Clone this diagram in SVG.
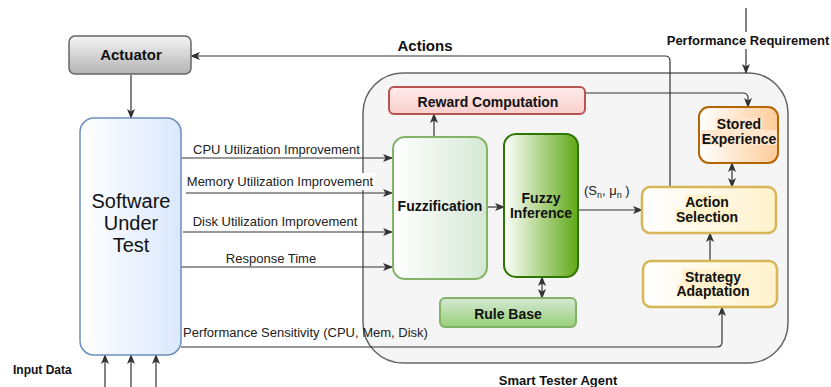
<svg xmlns="http://www.w3.org/2000/svg" width="831" height="387" viewBox="0 0 831 387">
  <defs>
    <linearGradient id="gActuator" x1="0" y1="0" x2="0" y2="1">
      <stop offset="0" stop-color="#f5f5f5"/>
      <stop offset="1" stop-color="#b3b3b3"/>
    </linearGradient>
    <linearGradient id="gSut" x1="0" y1="0" x2="1" y2="0">
      <stop offset="0" stop-color="#ffffff"/>
      <stop offset="1" stop-color="#dae8fc"/>
    </linearGradient>
    <linearGradient id="gReward" x1="0" y1="0" x2="0" y2="1">
      <stop offset="0" stop-color="#fdeceb"/>
      <stop offset="1" stop-color="#f8cecc"/>
    </linearGradient>
    <linearGradient id="gFuzz" x1="0" y1="0" x2="1" y2="0">
      <stop offset="0" stop-color="#ffffff"/>
      <stop offset="1" stop-color="#d5e8d4"/>
    </linearGradient>
    <linearGradient id="gInfer" x1="0" y1="0" x2="1" y2="0">
      <stop offset="0" stop-color="#ffffff"/>
      <stop offset="1" stop-color="#60a917"/>
    </linearGradient>
    <linearGradient id="gRule" x1="0" y1="0" x2="0" y2="1">
      <stop offset="0" stop-color="#d5e8d4"/>
      <stop offset="1" stop-color="#97d077"/>
    </linearGradient>
    <linearGradient id="gStored" x1="0" y1="0" x2="1" y2="0">
      <stop offset="0" stop-color="#ffffff"/>
      <stop offset="1" stop-color="#ffcc99"/>
    </linearGradient>
    <linearGradient id="gYellow" x1="0" y1="0" x2="1" y2="0">
      <stop offset="0" stop-color="#ffffff"/>
      <stop offset="1" stop-color="#fff2cc"/>
    </linearGradient>
    <marker id="arr" viewBox="0 0 10 8" refX="9" refY="4" markerWidth="10" markerHeight="8" markerUnits="userSpaceOnUse" orient="auto-start-reverse">
      <path d="M0,0 L10,4 L0,8 L2.5,4 z" fill="#333333"/>
    </marker>
    <style>
      text { font-family: "Liberation Sans", Arial, Helvetica, sans-serif; fill: #111111; }
      .lbl { font-size: 14px; font-weight: bold; text-anchor: middle; }
      .edge { font-size: 13px; text-anchor: middle; fill: #222222; }
      .title { font-size: 13px; font-weight: bold; text-anchor: middle; }
      .conn { fill: none; stroke: #333333; stroke-width: 1.2; }
      .conn-a { marker-end: url(#arr); }
      .conn-b { marker-start: url(#arr); marker-end: url(#arr); }
      .ybg { fill: #fff2cc; }
      .obg { fill: #ffe6cc; }
    </style>
  </defs>

  <rect width="831" height="387" fill="#ffffff"/>

  <!-- agent container -->
  <g id="smart-tester-agent">
    <rect x="363" y="73" width="425" height="290" rx="40" fill="#f5f5f5" stroke="#666666" stroke-width="1.5"/>
    <text class="title" x="558" y="385">Smart Tester Agent</text>
  </g>

  <!-- connectors -->
  <g id="connectors">
    <path class="conn conn-a" d="M131,75 V118"/>
    <path class="conn conn-a" d="M670,187 V61 Q670,56 665,56 H191"/>
    <path class="conn conn-a" d="M746,8 V73"/>
    <path class="conn conn-a" d="M585,93 H743 Q748,93 748,98 V107"/>
    <path class="conn conn-a" d="M434,137 V114"/>
    <path class="conn conn-a" d="M487,207 H504"/>
    <path class="conn conn-a" d="M578,210 H642"/>
    <path class="conn conn-b" d="M542,277 V298"/>
    <path class="conn conn-b" d="M732,163 V187"/>
    <path class="conn conn-a" d="M710,261 V233"/>
    <path class="conn conn-a" d="M181,347 H717 Q722,347 722,342 V307"/>
    <path class="conn conn-a" d="M181,158 H392"/>
    <path class="conn conn-a" d="M186,193 H392"/>
    <path class="conn conn-a" d="M183,232 H392"/>
    <path class="conn conn-a" d="M181,267 H392"/>
    <path class="conn conn-a" d="M105,387 V355"/>
    <path class="conn conn-a" d="M131,387 V355"/>
    <path class="conn conn-a" d="M156,387 V355"/>

    <text x="425" y="51" style="font-size:15px;font-weight:bold;text-anchor:middle">Actions</text>
    <rect x="666" y="32" width="165" height="17" fill="#ffffff"/>
    <text class="title" x="748" y="45">Performance Requirement</text>
    <text class="edge" x="276.5" y="153.5">CPU Utilization Improvement</text>
    <rect x="185" y="173" width="190" height="17" fill="#ffffff"/>
    <text class="edge" x="280" y="185.5">Memory Utilization Improvement</text>
    <text class="edge" x="275" y="225.5">Disk Utilization Improvement</text>
    <text class="edge" x="271" y="262.5">Response Time</text>
    <text x="183" y="336.5" style="font-size:13px;fill:#222222">Performance Sensitivity (CPU, Mem, Disk)</text>
    <text x="584" y="195" style="font-size:13px;fill:#222222">(S<tspan dy="3" style="font-size:9px">n</tspan><tspan dy="-3">, μ</tspan><tspan dy="3" style="font-size:9px">n</tspan><tspan dy="-3"> )</tspan></text>
    <text x="13" y="374" style="font-size:12px;font-weight:bold">Input Data</text>
  </g>

  <g id="actuator">
    <rect x="69" y="36" width="122" height="38" rx="6" fill="url(#gActuator)" stroke="#666666" stroke-width="1.5"/>
    <text class="lbl" x="131" y="60" style="font-size:15px">Actuator</text>
  </g>

  <g id="software-under-test">
    <rect x="80" y="118" width="101" height="237" rx="14" fill="url(#gSut)" stroke="#6c8ebf" stroke-width="1.5"/>
    <text x="131" y="208" style="font-size:20px;text-anchor:middle">Software</text>
    <text x="131" y="230" style="font-size:20px;text-anchor:middle">Under</text>
    <text x="131" y="252" style="font-size:20px;text-anchor:middle">Test</text>
  </g>

  <g id="reward-computation">
    <rect x="389" y="87" width="196" height="27" rx="5" fill="url(#gReward)" stroke="#b85450" stroke-width="2"/>
    <text class="lbl" x="488" y="106.5">Reward Computation</text>
  </g>

  <g id="fuzzification">
    <rect x="393" y="137" width="94" height="142" rx="12" fill="url(#gFuzz)" stroke="#82b366" stroke-width="2"/>
    <text class="lbl" x="440" y="210.5">Fuzzification</text>
  </g>

  <g id="fuzzy-inference">
    <rect x="504" y="134" width="74" height="143" rx="12" fill="url(#gInfer)" stroke="#2d7600" stroke-width="2"/>
    <text class="lbl" x="541" y="202.5">Fuzzy</text>
    <text class="lbl" x="541" y="217.5">Inference</text>
  </g>

  <g id="rule-base">
    <rect x="440" y="298" width="136" height="29" rx="5" fill="url(#gRule)" stroke="#82b366" stroke-width="2"/>
    <text class="lbl" x="508" y="319">Rule Base</text>
  </g>

  <g id="stored-experience">
    <rect x="699" y="107" width="79" height="56" rx="10" fill="url(#gStored)" stroke="#b46504" stroke-width="2"/>
    <rect class="obg" x="716" y="118" width="46" height="12"/>
    <rect class="obg" x="701" y="130" width="76" height="15"/>
    <text class="lbl" x="739" y="129">Stored</text>
    <text class="lbl" x="739" y="143.5">Experience</text>
  </g>

  <g id="action-selection">
    <rect x="642" y="187" width="134" height="46" rx="8" fill="url(#gYellow)" stroke="#d6b656" stroke-width="2.5"/>
    <rect class="ybg" x="685" y="195" width="43" height="14"/>
    <rect class="ybg" x="675" y="209" width="62" height="14"/>
    <text class="lbl" x="707" y="206.5">Action</text>
    <text class="lbl" x="707" y="221.5">Selection</text>
  </g>

  <g id="strategy-adaptation">
    <rect x="643" y="261" width="134" height="46" rx="8" fill="url(#gYellow)" stroke="#d6b656" stroke-width="2.5"/>
    <rect class="ybg" x="682" y="269" width="63" height="14"/>
    <rect class="ybg" x="677" y="283" width="73" height="14"/>
    <text class="lbl" x="713" y="281.5">Strategy</text>
    <text class="lbl" x="713" y="296">Adaptation</text>
  </g>
</svg>
